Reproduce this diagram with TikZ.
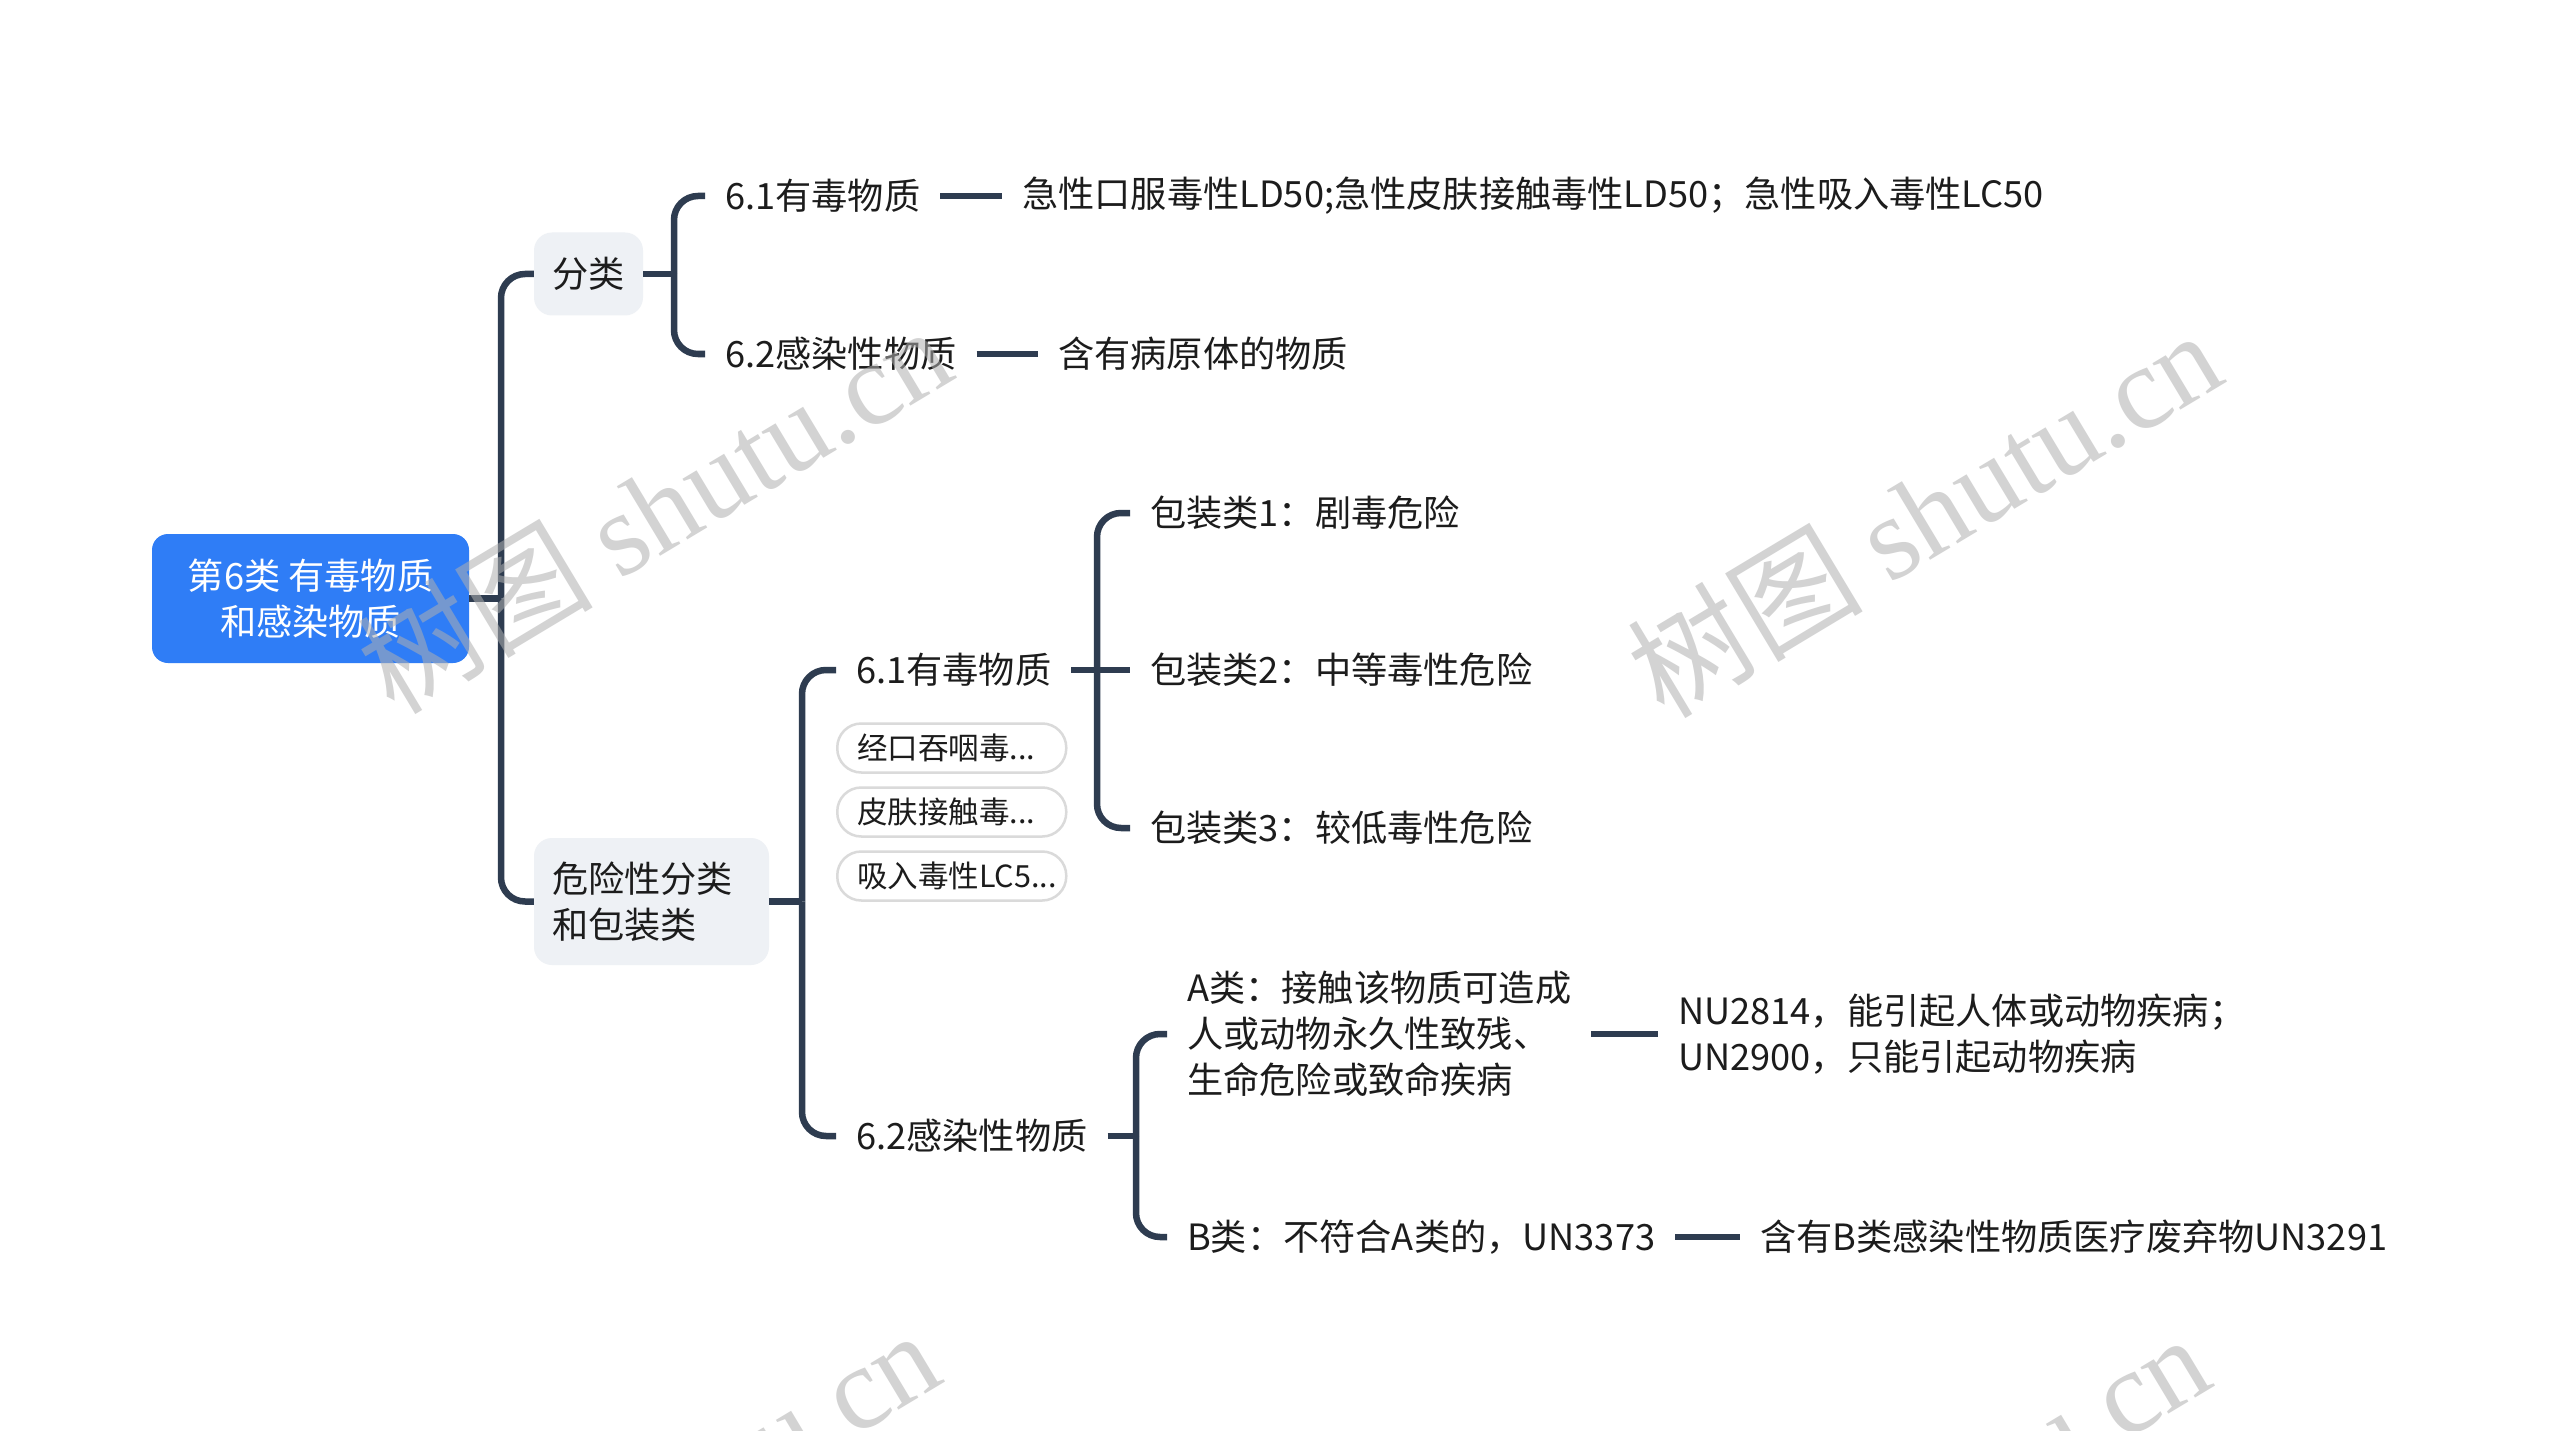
\documentclass[tikz,border=0pt]{standalone}
\usepackage{fontspec}
\setmainfont{Noto Sans CJK SC}
\newfontfamily\wmserif{Liberation Serif}
\newfontfamily\wmcjk{Noto Sans CJK SC}
\newcommand\mainsz{\fontsize{36.2}{46}\selectfont}
\newcommand\pillsz{\fontsize{30.5}{38}\selectfont}
\newcommand\wmsz{\fontsize{118}{130}\selectfont}
\definecolor{linec}{RGB}{46,60,80}
\definecolor{rootblue}{RGB}{47,125,246}
\definecolor{boxgray}{RGB}{238,241,245}
\definecolor{txt}{RGB}{28,28,28}
\definecolor{pillborder}{RGB}{218,218,218}
\definecolor{wmgray}{RGB}{175,175,175}
\tikzset{
  conn/.style={draw=linec, line width=6.5pt},
  rc/.style={rounded corners=24pt},
  txtnode/.style={anchor=west, inner xsep=20pt, inner ysep=4pt, text=txt, font=\mainsz, align=left},
  rootbox/.style={rectangle, rounded corners=16pt, fill=rootblue, text=white, minimum width=317pt, minimum height=129pt, align=center, font=\mainsz, inner sep=0pt},
  graybox/.style={rectangle, rounded corners=18pt, fill=boxgray, text=txt, font=\mainsz, inner sep=0pt},
  pill/.style={rectangle, draw=pillborder, line width=2.5pt, fill=white, rounded corners=24pt, minimum height=49pt, anchor=west, inner xsep=20pt, inner ysep=0pt, text width=189pt, align=left, text=txt, font=\pillsz},
  wmark/.style={rotate=31, text=wmgray, opacity=0.55, inner sep=0pt}
}
\begin{document}
\begin{tikzpicture}[x=1pt,y=-1pt]
\useasboundingbox (0,0) rectangle (2560,1431);
\fill[white] (0,0) rectangle (2560,1431);

% junction x positions
\coordinate (j0) at (501,0);
\coordinate (j1) at (674,0);
\coordinate (j2) at (802,0);
\coordinate (j3) at (1097,0);
\coordinate (j4) at (1136,0);

% nodes
\node[rootbox] (root) at (310.5,598.5) {第6类 有毒物质\\和感染物质};
\node[graybox, minimum width=109pt, minimum height=83pt] (fenlei) at (588.5,274) {分类};
\node[graybox, minimum width=235pt, minimum height=127pt, text width=199pt, align=left] (danger) at (651.5,901.5) {危险性分类\\和包装类};

\node[txtnode] (t61) at (705,196) {6.1有毒物质};
\node[txtnode] (t61d) at (1002,196) {急性口服毒性LD50;急性皮肤接触毒性LD50；急性吸入毒性LC50};
\node[txtnode] (t62) at (705,354) {6.2感染性物质};
\node[txtnode] (t62d) at (1038,354) {含有病原体的物质};

\node[txtnode] (s61) at (836,670) {6.1有毒物质};
\node[pill] (n1) at (836,748) {经口吞咽毒...};
\node[pill] (n2) at (836,812) {皮肤接触毒...};
\node[pill] (n3) at (836,876) {吸入毒性LC5...};
\node[txtnode] (p1) at (1130,513) {包装类1：剧毒危险};
\node[txtnode] (p2) at (1130,670) {包装类2：中等毒性危险};
\node[txtnode] (p3) at (1130,828) {包装类3：较低毒性危险};

\node[txtnode] (s62) at (836,1136) {6.2感染性物质};
\node[txtnode] (aA) at (1167,1034) {A类：接触该物质可造成\\人或动物永久性致残、\\生命危险或致命疾病};
\node[txtnode] (aAd) at (1658,1034) {NU2814，能引起人体或动物疾病；\\UN2900，只能引起动物疾病};
\node[txtnode] (bB) at (1167,1237) {B类：不符合A类的，UN3373};
\node[txtnode] (bBd) at (1740,1237) {含有B类感染性物质医疗废弃物UN3291};

% connectors
\draw[conn] (root.east) -- (root.east -| j0);
\draw[conn, rc] (root.east -| j0) |- (fenlei.west);
\draw[conn, rc] (root.east -| j0) |- (danger.west);

\draw[conn] (fenlei.east) -- (fenlei.east -| j1);
\draw[conn, rc] (fenlei.east -| j1) |- (t61.west);
\draw[conn, rc] (fenlei.east -| j1) |- (t62.west);
\draw[conn] (t61.east) -- (t61d.west);
\draw[conn] (t62.east) -- (t62d.west);

\draw[conn] (danger.east) -- (danger.east -| j2);
\draw[conn, rc] (danger.east -| j2) |- (s61.west);
\draw[conn, rc] (danger.east -| j2) |- (s62.west);

\draw[conn] (s61.east) -- (p2.west);
\draw[conn, rc] (s61.east -| j3) |- (p1.west);
\draw[conn, rc] (s61.east -| j3) |- (p3.west);

\draw[conn] (s62.east) -- (s62.east -| j4);
\draw[conn, rc] (s62.east -| j4) |- (aA.west);
\draw[conn, rc] (s62.east -| j4) |- (bB.west);
\draw[conn] (aA.east) -- (aAd.west);
\draw[conn] (bB.east) -- (bBd.west);

% watermarks
\begin{scope}
\clip (0,0) rectangle (2560,1431);
\node[wmark] (wm1) at (654,508) {\wmsz\wmcjk 树图 \wmserif shutu.cn};
\node[wmark] (wm2) at (1924,512) {\wmsz\wmcjk 树图 \wmserif shutu.cn};
\node[wmark] (wm3) at (642,1512) {\wmsz\wmcjk 树图 \wmserif shutu.cn};
\node[wmark] (wm4) at (1912,1516) {\wmsz\wmcjk 树图 \wmserif shutu.cn};
\end{scope}
\end{tikzpicture}
\end{document}
